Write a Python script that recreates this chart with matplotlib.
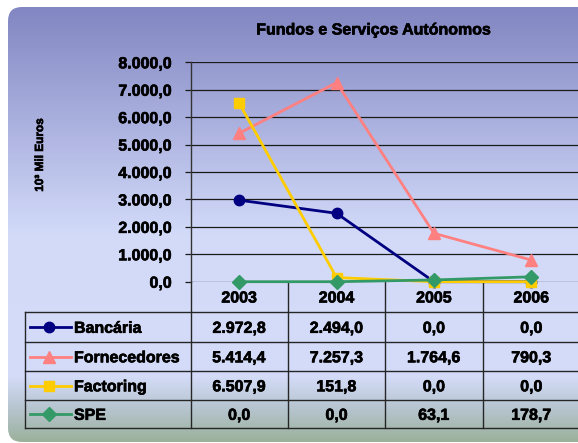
import numpy as np
import matplotlib.pyplot as plt
import matplotlib.patheffects as pe
from matplotlib.patches import FancyBboxPatch
from matplotlib.colors import LinearSegmentedColormap
from matplotlib.transforms import blended_transform_factory

# data
years = ['2003', '2004', '2005', '2006']
bancaria = [2972.8, 2494.0, 0.0, 0.0]
fornecedores = [5414.4, 7257.3, 1764.6, 790.3]
factoring = [6507.9, 151.8, 0.0, 0.0]
spe = [0.0, 0.0, 63.1, 178.7]
names = ['Bancária', 'Fornecedores', 'Factoring', 'SPE']
yticks = [0, 1000, 2000, 3000, 4000, 5000, 6000, 7000, 8000]

colors = ['#000080', '#ff8080', '#ffcc00', '#339966']
markers = ['o', '^', 's', 'D']
msizes = [7.5, 8.5, 7.5, 7]


def pt(v):
    # portuguese number format: 1.234,5
    s = f'{v:,.1f}'
    return s.replace(',', '#').replace('.', ',').replace('#', '.')


plt.rcParams['font.family'] = ['Liberation Sans', 'DejaVu Sans']
plt.rcParams['font.weight'] = 'bold'
fs = 11.5
fw = 'bold'
# slightly heavier text, like the excel rendering
heavy = [pe.withStroke(linewidth=0.45, foreground='black')]

W, H = 578, 443
fig = plt.figure(figsize=(W / 100, H / 100), dpi=100)

# background with gradient in a rounded box
bg = fig.add_axes([0, 0, 1, 1])
bg.axis('off')
box = FancyBboxPatch((8, 7), 640, 435, boxstyle='round,pad=0,rounding_size=14',
                     fc='none', ec='none')
bg.add_patch(box)
cmap = LinearSegmentedColormap.from_list('bg', [(0, '#8286c2'), (0.52, '#d2daf9'),
                                               (0.85, '#d4dcf8'), (0.92, '#b8c6d2'),
                                               (1, '#9cb19c')])
grad = np.linspace(0, 1, 256).reshape(-1, 1)
im = bg.imshow(grad, cmap=cmap, extent=[8, 648, 442, 7], aspect='auto')
im.set_clip_path(box)
bg.set_xlim(0, W)
bg.set_ylim(H, 0)

# plot area
L, R, T, B = 190.5, 580, 62.3, 281.7
ax = fig.add_axes([L / W, 1 - B / H, (R - L) / W, (B - T) / H])
ax.patch.set_alpha(0)
x = np.arange(len(years))
series = [bancaria, fornecedores, factoring, spe]
for i, vals in enumerate(series):
    ax.plot(x, vals, color=colors[i], lw=2, marker=markers[i], ms=msizes[i],
            mec=colors[i], mfc=colors[i], clip_on=False, zorder=3 + i)

ax.set_xlim(-0.5, 3.5)
ax.set_ylim(0, 8000)
ax.set_yticks(yticks)
ax.set_yticklabels([pt(v) for v in yticks], fontsize=fs, fontweight=fw)
for t in ax.get_yticklabels():
    t.set_path_effects(heavy)
ax.set_xticks([])
ax.yaxis.grid(True, color='#1a1a1a', lw=0.9)
ax.set_axisbelow(True)
ax.tick_params(axis='y', length=4, width=0.9, pad=9.5, color='#1a1a1a')
for s in ['top', 'right', 'bottom']:
    ax.spines[s].set_visible(False)
ax.spines['left'].set_color('#333333')
ax.spines['left'].set_linewidth(1)

# title and y label
bg.text(374, 30, 'Fundos e Serviços Autónomos', ha='center', va='center',
        fontsize=fs, fontweight=fw, path_effects=heavy)
bg.text(40, 155, '10³ Mil Euros', rotation=90, ha='center', va='center',
        fontsize=8.5, fontweight=fw, path_effects=heavy)

# data table
tr = blended_transform_factory(ax.transData, bg.transData)
rows_y = [312.3, 342.3, 371.3, 400.3, 428.3]
lc = '#262626'
for y in rows_y:
    bg.plot([25, 580], [y, y], color=lc, lw=1)
bg.plot([25, 25], [rows_y[0], rows_y[-1]], color=lc, lw=1)
for xc in np.arange(len(years) + 1) - 0.5:
    bg.plot([xc, xc], [B, rows_y[-1]], color=lc, lw=1, transform=tr)

for i, yr in enumerate(years):
    bg.text(i, (B + rows_y[0]) / 2 + 1, yr, ha='center', va='center',
            fontsize=fs, fontweight=fw, transform=tr, path_effects=heavy)

for j, vals in enumerate(series):
    yc = (rows_y[j] + rows_y[j + 1]) / 2
    bg.plot([30, 71], [yc, yc], color=colors[j], lw=2)
    bg.plot([49], [yc], marker=markers[j], ms=msizes[j], color=colors[j])
    bg.text(74, yc + 1, names[j], ha='left', va='center', fontsize=fs,
            fontweight=fw, path_effects=heavy)
    for i, v in enumerate(vals):
        bg.text(i, yc + 1, pt(v), ha='center', va='center', fontsize=fs,
                fontweight=fw, transform=tr, path_effects=heavy)

fig.savefig('out.png', dpi=100)
